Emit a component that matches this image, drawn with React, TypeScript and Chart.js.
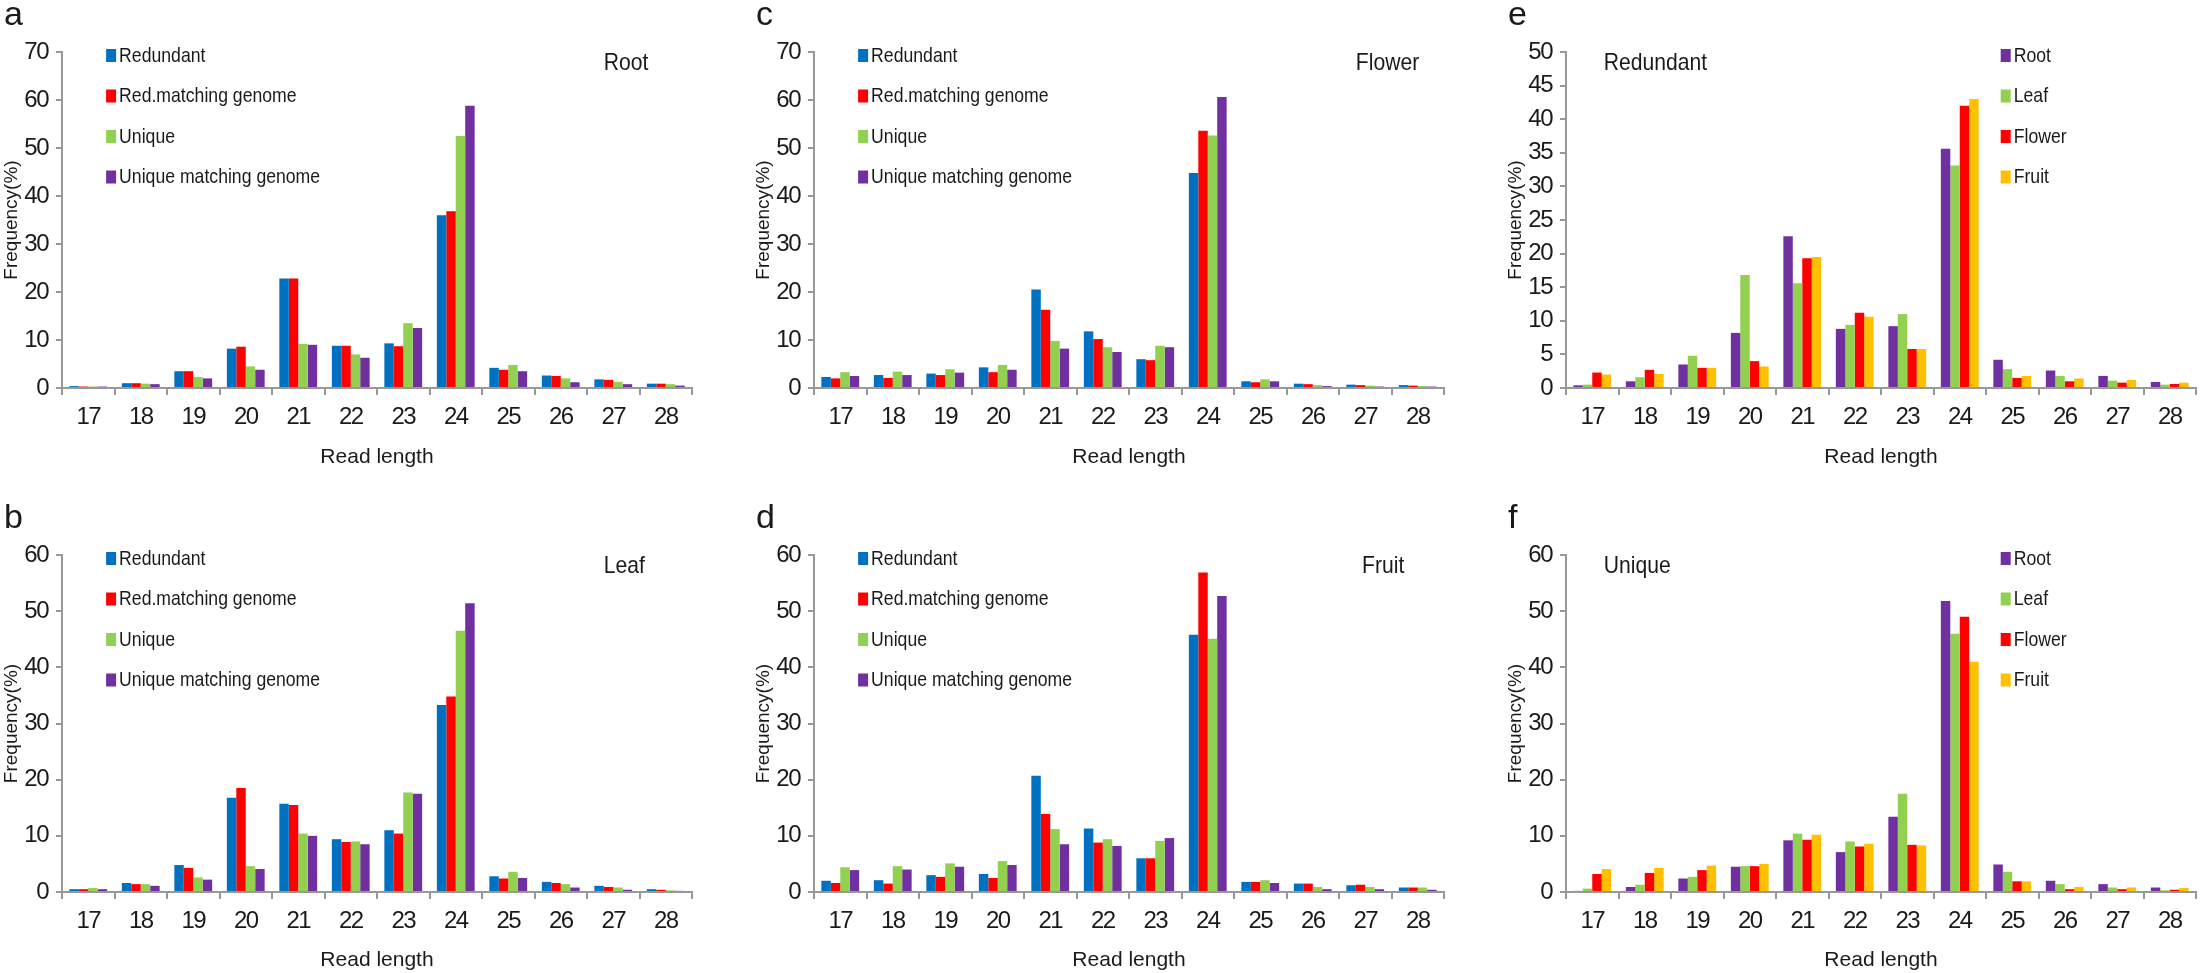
import { useEffect, useRef } from "react";
import { Chart, registerables } from "chart.js";

Chart.register(...registerables);

// ---- data (percent of reads by length) ----
const readLengths = ["17", "18", "19", "20", "21", "22", "23", "24", "25", "26", "27", "28"];

const rootRedundant = [0.4, 1.0, 3.5, 8.2, 22.8, 8.8, 9.3, 36.0, 4.2, 2.6, 1.8, 0.9];
const rootRedMatching = [0.3, 1.0, 3.5, 8.6, 22.8, 8.8, 8.7, 36.8, 3.8, 2.5, 1.7, 0.9];
const rootUnique = [0.3, 0.9, 2.3, 4.5, 9.2, 7.0, 13.5, 52.5, 4.8, 2.0, 1.3, 0.8];
const rootUniqueMatching = [0.3, 0.8, 2.0, 3.8, 9.0, 6.3, 12.5, 58.8, 3.5, 1.2, 0.8, 0.5];

const leafRedundant = [0.5, 1.6, 4.8, 16.8, 15.7, 9.4, 11.0, 33.3, 2.8, 1.8, 1.1, 0.5];
const leafRedMatching = [0.5, 1.4, 4.3, 18.5, 15.5, 8.9, 10.4, 34.8, 2.4, 1.6, 0.9, 0.4];
const leafUnique = [0.7, 1.4, 2.6, 4.6, 10.4, 9.0, 17.7, 46.5, 3.6, 1.4, 0.8, 0.3];
const leafUniqueMatching = [0.5, 1.1, 2.2, 4.1, 10.0, 8.5, 17.5, 51.4, 2.5, 0.8, 0.4, 0.2];

const flowerRedundant = [2.3, 2.7, 3.0, 4.3, 20.5, 11.8, 6.0, 44.8, 1.4, 0.9, 0.7, 0.6];
const flowerRedMatching = [2.0, 2.1, 2.7, 3.3, 16.3, 10.2, 5.8, 53.6, 1.2, 0.8, 0.6, 0.5];
const flowerUnique = [3.3, 3.4, 3.9, 4.8, 9.8, 8.5, 8.8, 52.6, 1.8, 0.6, 0.5, 0.4];
const flowerUniqueMatching = [2.5, 2.7, 3.2, 3.8, 8.2, 7.5, 8.5, 60.6, 1.4, 0.4, 0.3, 0.3];

const fruitRedundant = [2.0, 2.1, 3.0, 3.2, 20.7, 11.3, 6.0, 45.8, 1.8, 1.5, 1.2, 0.8];
const fruitRedMatching = [1.6, 1.5, 2.7, 2.5, 13.9, 8.8, 6.0, 56.9, 1.8, 1.5, 1.3, 0.8];
const fruitUnique = [4.4, 4.6, 5.1, 5.5, 11.2, 9.4, 9.1, 45.1, 2.1, 0.9, 0.9, 0.8];
const fruitUniqueMatching = [3.9, 4.0, 4.5, 4.8, 8.5, 8.2, 9.6, 52.7, 1.6, 0.5, 0.5, 0.4];

const redundantRoot = [0.4, 1.0, 3.5, 8.2, 22.6, 8.8, 9.2, 35.6, 4.2, 2.6, 1.8, 0.9];
const redundantLeaf = [0.5, 1.6, 4.8, 16.8, 15.6, 9.4, 11.0, 33.1, 2.8, 1.8, 1.1, 0.5];
const redundantFlower = [2.3, 2.7, 3.0, 4.0, 19.3, 11.2, 5.8, 42.0, 1.5, 1.0, 0.8, 0.6];
const redundantFruit = [2.0, 2.1, 3.0, 3.2, 19.5, 10.6, 5.8, 43.0, 1.8, 1.4, 1.2, 0.8];

const uniqueRoot = [0.2, 0.9, 2.4, 4.5, 9.2, 7.1, 13.4, 51.8, 4.9, 2.0, 1.4, 0.8];
const uniqueLeaf = [0.6, 1.3, 2.7, 4.6, 10.4, 9.0, 17.5, 46.0, 3.6, 1.4, 0.8, 0.3];
const uniqueFlower = [3.2, 3.4, 3.9, 4.6, 9.3, 8.1, 8.4, 49.0, 1.9, 0.5, 0.5, 0.4];
const uniqueFruit = [4.1, 4.3, 4.7, 5.0, 10.2, 8.6, 8.3, 41.0, 1.9, 0.9, 0.8, 0.7];

const BLUE = "#0070C0";
const RED = "#FF0000";
const GREEN = "#92D050";
const PURPLE = "#7030A0";
const GOLD = "#FFC000";
const AXIS = "#989898";
const TEXT = "#1a1a1a";

const NARROW = "'Liberation Sans Narrow', 'Arial Narrow', 'Liberation Sans', sans-serif";
const REGULAR = "'Liberation Sans', Arial, sans-serif";

type Series = { label: string; data: number[]; color: string };

type PanelSpec = {
  letter: string;
  title: string;
  titleAt: number;
  legendAt: number;
  series: Series[];
  yMax: number;
  yStep: number;
  x: number;
  y: number;
  w: number;
  h: number;
  plotTop: number;
  plotBottom: number;
};

const AXIS_LEFT = 62;
const PLOT_WIDTH = 630;

const typeSeries = (a: number[], b: number[], c: number[], d: number[]): Series[] => [
  { label: "Redundant", data: a, color: BLUE },
  { label: "Red.matching genome", data: b, color: RED },
  { label: "Unique", data: c, color: GREEN },
  { label: "Unique matching genome", data: d, color: PURPLE },
];

const tissueSeries = (a: number[], b: number[], c: number[], d: number[]): Series[] => [
  { label: "Root", data: a, color: PURPLE },
  { label: "Leaf", data: b, color: GREEN },
  { label: "Flower", data: c, color: RED },
  { label: "Fruit", data: d, color: GOLD },
];

const TOP = { y: 0, h: 470, plotTop: 52, plotBottom: 388 };
const BOTTOM = { y: 480, h: 493, plotTop: 75, plotBottom: 412 };

const panels: PanelSpec[] = [
  {
    letter: "a", title: "Root", titleAt: 0.86, legendAt: 0.07, yMax: 70, yStep: 10,
    series: typeSeries(rootRedundant, rootRedMatching, rootUnique, rootUniqueMatching),
    x: 0, w: 752, ...TOP,
  },
  {
    letter: "b", title: "Leaf", titleAt: 0.86, legendAt: 0.07, yMax: 60, yStep: 10,
    series: typeSeries(leafRedundant, leafRedMatching, leafUnique, leafUniqueMatching),
    x: 0, w: 752, ...BOTTOM,
  },
  {
    letter: "c", title: "Flower", titleAt: 0.86, legendAt: 0.07, yMax: 70, yStep: 10,
    series: typeSeries(flowerRedundant, flowerRedMatching, flowerUnique, flowerUniqueMatching),
    x: 752, w: 752, ...TOP,
  },
  {
    letter: "d", title: "Fruit", titleAt: 0.87, legendAt: 0.07, yMax: 60, yStep: 10,
    series: typeSeries(fruitRedundant, fruitRedMatching, fruitUnique, fruitUniqueMatching),
    x: 752, w: 752, ...BOTTOM,
  },
  {
    letter: "e", title: "Redundant", titleAt: 0.06, legendAt: 0.69, yMax: 50, yStep: 5,
    series: tissueSeries(redundantRoot, redundantLeaf, redundantFlower, redundantFruit),
    x: 1504, w: 703, ...TOP,
  },
  {
    letter: "f", title: "Unique", titleAt: 0.06, legendAt: 0.69, yMax: 60, yStep: 10,
    series: tissueSeries(uniqueRoot, uniqueLeaf, uniqueFlower, uniqueFruit),
    x: 1504, w: 703, ...BOTTOM,
  },
];

// draws text squeezed sideways, standing in for the narrow face of the original
function narrowText(ctx: CanvasRenderingContext2D, text: string, x: number, y: number, squeeze: number) {
  ctx.save();
  ctx.translate(x, y);
  ctx.scale(squeeze, 1);
  ctx.fillText(text, 0, 0);
  ctx.restore();
}

// letter, in-plot title and the stacked legend
const panelDecor = {
  id: "panelDecor",
  beforeDatasetsDraw(chart: Chart) {
    // tick labels are drawn after the bars (ticks.z = 1); tighten them a little
    (chart.ctx as any).letterSpacing = "-1.5px";
  },
  afterDraw(chart: Chart, _args: unknown, opts: any) {
    const { ctx, chartArea } = chart;
    const { left, top, right } = chartArea;
    const width = right - left;
    ctx.save();
    (ctx as any).letterSpacing = "0px";
    ctx.fillStyle = TEXT;
    ctx.textBaseline = "alphabetic";
    ctx.textAlign = "left";
    ctx.font = `34px ${REGULAR}`;
    ctx.fillText(opts.letter, left - 58, top - 27);

    ctx.font = `24px ${REGULAR}`;
    ctx.textBaseline = "middle";
    narrowText(ctx, opts.title, left + width * opts.titleAt, top + 11, 0.88);

    ctx.font = `21px ${REGULAR}`;
    (opts.series as Series[]).forEach((s, i) => {
      const cy = top + 3 + i * 40.5;
      const sx = left + width * opts.legendAt;
      ctx.fillStyle = s.color;
      ctx.fillRect(sx, cy - 6, 10, 13);
      ctx.fillStyle = TEXT;
      narrowText(ctx, s.label, sx + 13, cy + 1, 0.84);
    });
    ctx.restore();
  },
};

function Panel({ spec }: { spec: PanelSpec }) {
  const canvasRef = useRef<HTMLCanvasElement>(null);

  useEffect(() => {
    if (!canvasRef.current) return;
    const chart = new Chart(canvasRef.current, {
      type: "bar",
      data: {
        labels: readLengths,
        datasets: spec.series.map((s) => ({
          label: s.label,
          data: s.data,
          backgroundColor: s.color,
          borderWidth: 0,
          categoryPercentage: 0.72,
          barPercentage: 1,
        })),
      },
      options: {
        responsive: true,
        maintainAspectRatio: false,
        animation: false,
        layout: {
          padding: { left: 0, top: spec.plotTop, right: spec.w - AXIS_LEFT - PLOT_WIDTH, bottom: 0 },
        },
        plugins: {
          legend: { display: false },
          tooltip: { enabled: false },
          panelDecor: {
            letter: spec.letter,
            title: spec.title,
            titleAt: spec.titleAt,
            legendAt: spec.legendAt,
            series: spec.series,
          },
        } as any,
        scales: {
          x: {
            afterFit: (scale: any) => {
              scale.height = spec.h - spec.plotBottom;
            },
            border: { color: AXIS, width: 2 },
            grid: {
              offset: true,
              drawOnChartArea: false,
              drawTicks: true,
              tickLength: 7,
              color: AXIS,
              lineWidth: 2,
            },
            ticks: {
              z: 1,
              color: TEXT,
              font: { family: NARROW, size: 24 },
              padding: 8,
              maxRotation: 0,
              autoSkip: false,
            },
            title: {
              display: true,
              text: "Read length",
              color: TEXT,
              font: { family: NARROW, size: 21 },
              padding: { top: 0, bottom: 0 },
            },
          },
          y: {
            min: 0,
            max: spec.yMax,
            afterFit: (scale: any) => {
              scale.width = AXIS_LEFT;
            },
            border: { color: AXIS, width: 2 },
            grid: {
              drawOnChartArea: false,
              drawTicks: true,
              tickLength: 6,
              color: AXIS,
              lineWidth: 2,
            },
            ticks: {
              z: 1,
              stepSize: spec.yStep,
              color: TEXT,
              font: { family: NARROW, size: 24 },
              padding: 8,
            },
            title: {
              display: true,
              text: "Frequency(%)",
              color: TEXT,
              font: { family: REGULAR, size: 19 },
              padding: { top: 0, bottom: 0 },
            },
          },
        },
      },
      plugins: [panelDecor],
    });
    return () => chart.destroy();
  }, [spec]);

  return (
    <div style={{ position: "absolute", left: spec.x, top: spec.y, width: spec.w, height: spec.h }}>
      <canvas ref={canvasRef} />
    </div>
  );
}

export default function App() {
  return (
    <div style={{ position: "absolute", left: 0, top: 0, width: 2207, height: 973, background: "#fff" }}>
      {panels.map((p) => (
        <Panel key={p.letter} spec={p} />
      ))}
    </div>
  );
}
